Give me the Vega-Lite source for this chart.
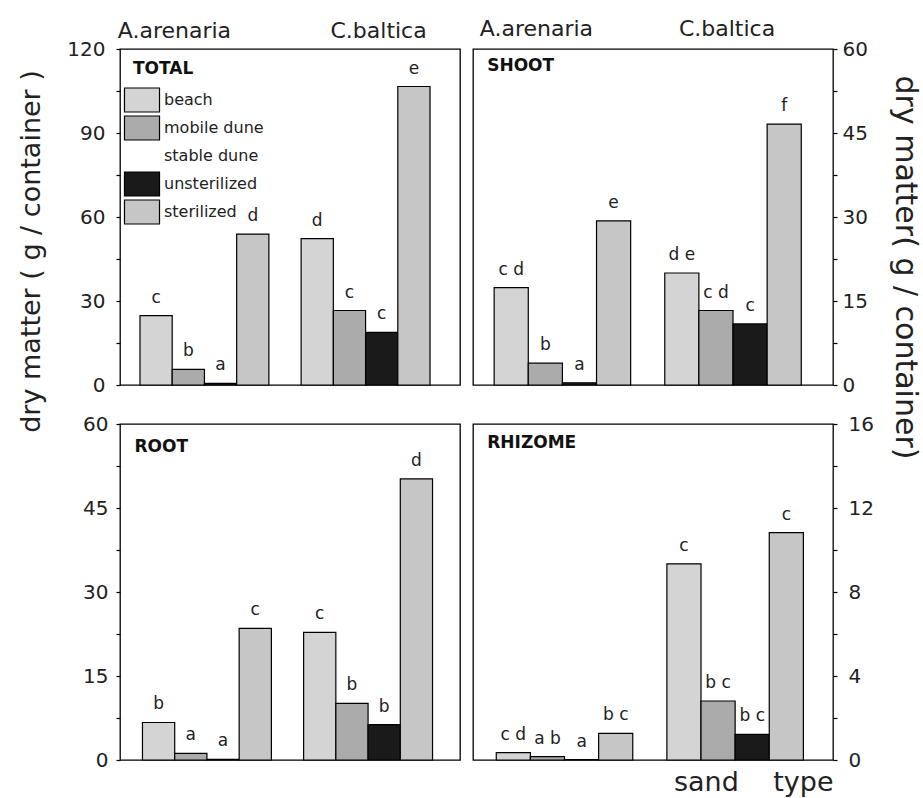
{
  "$schema": "https://vega.github.io/schema/vega-lite/v6.json",
  "autosize": {"type": "none"},
  "padding": {"left": 120, "top": 49, "right": 803, "bottom": 749},
  "background": "white",
  "config": {
    "font": "DejaVu Sans",
    "view": {"stroke": "#000", "strokeWidth": 1.3},
    "axis": {"labelFont": "DejaVu Sans", "labelColor": "#222", "labelFontSize": 20, "tickColor": "#000", "tickWidth": 1.2, "grid": false, "domain": false, "titleFont": "DejaVu Sans", "titleFontWeight": "normal", "titleColor": "#222"},
    "legend": {"labelFont": "DejaVu Sans"},
    "text": {"font": "DejaVu Sans", "color": "#222"}
  },
  "datasets": {
    "d": [
      {"panel": "TOTAL", "species": "A.arenaria", "sand": "beach", "value": 24.8, "sig": "c"},
      {"panel": "TOTAL", "species": "A.arenaria", "sand": "mobile dune", "value": 5.6, "sig": "b"},
      {"panel": "TOTAL", "species": "A.arenaria", "sand": "unsterilized", "value": 0.6, "sig": "a"},
      {"panel": "TOTAL", "species": "A.arenaria", "sand": "sterilized", "value": 53.9, "sig": "d"},
      {"panel": "TOTAL", "species": "C.baltica", "sand": "beach", "value": 52.3, "sig": "d"},
      {"panel": "TOTAL", "species": "C.baltica", "sand": "mobile dune", "value": 26.6, "sig": "c"},
      {"panel": "TOTAL", "species": "C.baltica", "sand": "unsterilized", "value": 18.8, "sig": "c"},
      {"panel": "TOTAL", "species": "C.baltica", "sand": "sterilized", "value": 106.6, "sig": "e"},
      {"panel": "SHOOT", "species": "A.arenaria", "sand": "beach", "value": 17.4, "sig": "c d"},
      {"panel": "SHOOT", "species": "A.arenaria", "sand": "mobile dune", "value": 3.9, "sig": "b"},
      {"panel": "SHOOT", "species": "A.arenaria", "sand": "unsterilized", "value": 0.4, "sig": "a"},
      {"panel": "SHOOT", "species": "A.arenaria", "sand": "sterilized", "value": 29.3, "sig": "e"},
      {"panel": "SHOOT", "species": "C.baltica", "sand": "beach", "value": 20.0, "sig": "d e"},
      {"panel": "SHOOT", "species": "C.baltica", "sand": "mobile dune", "value": 13.3, "sig": "c d"},
      {"panel": "SHOOT", "species": "C.baltica", "sand": "unsterilized", "value": 10.9, "sig": "c"},
      {"panel": "SHOOT", "species": "C.baltica", "sand": "sterilized", "value": 46.6, "sig": "f"},
      {"panel": "ROOT", "species": "A.arenaria", "sand": "beach", "value": 6.7, "sig": "b"},
      {"panel": "ROOT", "species": "A.arenaria", "sand": "mobile dune", "value": 1.2, "sig": "a"},
      {"panel": "ROOT", "species": "A.arenaria", "sand": "unsterilized", "value": 0.1, "sig": "a"},
      {"panel": "ROOT", "species": "A.arenaria", "sand": "sterilized", "value": 23.5, "sig": "c"},
      {"panel": "ROOT", "species": "C.baltica", "sand": "beach", "value": 22.8, "sig": "c"},
      {"panel": "ROOT", "species": "C.baltica", "sand": "mobile dune", "value": 10.1, "sig": "b"},
      {"panel": "ROOT", "species": "C.baltica", "sand": "unsterilized", "value": 6.3, "sig": "b"},
      {"panel": "ROOT", "species": "C.baltica", "sand": "sterilized", "value": 50.2, "sig": "d"},
      {"panel": "RHIZOME", "species": "A.arenaria", "sand": "beach", "value": 0.35, "sig": "c d"},
      {"panel": "RHIZOME", "species": "A.arenaria", "sand": "mobile dune", "value": 0.16, "sig": "a b"},
      {"panel": "RHIZOME", "species": "A.arenaria", "sand": "unsterilized", "value": 0.02, "sig": "a"},
      {"panel": "RHIZOME", "species": "A.arenaria", "sand": "sterilized", "value": 1.27, "sig": "b c"},
      {"panel": "RHIZOME", "species": "C.baltica", "sand": "beach", "value": 9.34, "sig": "c"},
      {"panel": "RHIZOME", "species": "C.baltica", "sand": "mobile dune", "value": 2.81, "sig": "b c"},
      {"panel": "RHIZOME", "species": "C.baltica", "sand": "unsterilized", "value": 1.22, "sig": "b c"},
      {"panel": "RHIZOME", "species": "C.baltica", "sand": "sterilized", "value": 10.83, "sig": "c"}
    ]
  },
  "columns": 2,
  "spacing": {"row": 39, "column": 13},
  "bounds": "flush",
  "resolve": {"scale": {"x": "independent", "y": "independent", "fill": "independent", "xOffset": "independent"}},
  "concat": [
    {
      "width": 340,
      "height": 336,
      "data": {"name": "d"},
      "layer": [
        {
          "transform": [{"filter": "datum.panel === 'TOTAL'"}],
          "mark": {"type": "bar", "stroke": "#000", "strokeWidth": 1.2},
          "encoding": {
            "x": {"field": "species", "type": "nominal", "title": null,
              "scale": {"domain": ["A.arenaria", "C.baltica"], "paddingInner": 0.2, "paddingOuter": 0.155, "align": 0.4},
              "axis": {"orient": "top", "labelAngle": 0, "labelFontSize": 22, "tickSize": 0, "ticks": false, "labelPadding": 12, "labelBaseline": "alphabetic",
                "labelOffset": {"condition": {"test": "datum.value === 'A.arenaria'", "value": -30}, "value": 13}}},
            "xOffset": {"field": "sand", "type": "nominal", "sort": ["beach", "mobile dune", "unsterilized", "sterilized"], "scale": {"paddingInner": 0, "paddingOuter": 0}},
            "y": {"field": "value", "type": "quantitative", "scale": {"domain": [0, 120], "nice": false},
              "axis": {"orient": "left", "values": [0, 15, 30, 45, 60, 75, 90, 105, 120], "labelExpr": "datum.value % 30 === 0 ? datum.label : ''", "tickSize": 4, "labelPadding": 11,
                "title": "dry matter ( g / container )", "titleFontSize": 27, "titleAngle": -90, "titleX": -81, "titleY": 202, "titleAlign": "center", "titleBaseline": "alphabetic"}},
            "fill": {"field": "sand", "type": "nominal",
              "scale": {"domain": ["beach", "mobile dune", "stable dune", "unsterilized", "sterilized"], "range": ["#d4d4d4", "#ababab", "transparent", "#1a1a1a", "#c6c6c6"]},
              "legend": {"title": null, "orient": "none", "legendX": 9, "legendY": 38, "padding": 0,
                "symbolType": "M-1.46,-1L1.46,-1L1.46,1L-1.46,1Z", "symbolSize": 576,
                "symbolStrokeColor": {"expr": "datum.value === 'stable dune' ? 'transparent' : '#000'"}, "symbolStrokeWidth": 1.2,
                "labelFontSize": 16, "labelOffset": 9, "rowPadding": -2.5, "labelColor": "#222", "labelLimit": 400}}
          }
        },
        {
          "transform": [{"filter": "datum.panel === 'TOTAL'"}],
          "mark": {"type": "text", "baseline": "alphabetic", "dy": -13, "fontSize": 17},
          "encoding": {
            "x": {"field": "species", "type": "nominal"},
            "xOffset": {"field": "sand", "type": "nominal", "sort": ["beach", "mobile dune", "unsterilized", "sterilized"]},
            "y": {"field": "value", "type": "quantitative"},
            "text": {"field": "sig"}
          }
        },
        {
          "data": {"values": [{"name": "TOTAL"}]},
          "mark": {"type": "text", "align": "left", "baseline": "middle", "fontWeight": "bold", "fontSize": 17, "dx": -7, "dy": 20, "color": "#111"},
          "encoding": {
            "x": {"datum": "A.arenaria", "type": "nominal", "bandPosition": 0},
            "y": {"datum": 120, "type": "quantitative"},
            "text": {"field": "name"}
          }
        }
      ]
    },
    {
      "width": 360,
      "height": 336,
      "data": {"name": "d"},
      "layer": [
        {
          "transform": [{"filter": "datum.panel === 'SHOOT'"}],
          "mark": {"type": "bar", "stroke": "#000", "strokeWidth": 1.2},
          "encoding": {
            "x": {"field": "species", "type": "nominal", "title": null,
              "scale": {"domain": ["A.arenaria", "C.baltica"], "paddingInner": 0.2, "paddingOuter": 0.155, "align": 0.4},
              "axis": {"orient": "top", "labelAngle": 0, "labelFontSize": 22, "tickSize": 0, "ticks": false, "labelPadding": 14, "labelBaseline": "alphabetic",
                "labelOffset": {"condition": {"test": "datum.value === 'A.arenaria'", "value": -26}, "value": -6}}},
            "xOffset": {"field": "sand", "type": "nominal", "sort": ["beach", "mobile dune", "unsterilized", "sterilized"], "scale": {"paddingInner": 0, "paddingOuter": 0}},
            "y": {"field": "value", "type": "quantitative", "scale": {"domain": [0, 60], "nice": false},
              "axis": {"orient": "right", "values": [0, 7.5, 15, 22.5, 30, 37.5, 45, 52.5, 60], "labelExpr": "datum.value % 15 === 0 ? datum.label : ''", "tickSize": 4, "labelPadding": 5,
                "title": "dry matter( g / container)", "titleFontSize": 30, "titleAngle": 90, "titleX": 62, "titleY": 218, "titleAlign": "center", "titleBaseline": "alphabetic"}},
            "fill": {"field": "sand", "type": "nominal", "legend": null,
              "scale": {"domain": ["beach", "mobile dune", "stable dune", "unsterilized", "sterilized"], "range": ["#d4d4d4", "#ababab", "transparent", "#1a1a1a", "#c6c6c6"]}}
          }
        },
        {
          "transform": [{"filter": "datum.panel === 'SHOOT'"}],
          "mark": {"type": "text", "baseline": "alphabetic", "dy": -13, "fontSize": 17},
          "encoding": {
            "x": {"field": "species", "type": "nominal"},
            "xOffset": {"field": "sand", "type": "nominal", "sort": ["beach", "mobile dune", "unsterilized", "sterilized"]},
            "y": {"field": "value", "type": "quantitative"},
            "text": {"field": "sig"}
          }
        },
        {
          "data": {"values": [{"name": "SHOOT"}]},
          "mark": {"type": "text", "align": "left", "baseline": "middle", "fontWeight": "bold", "fontSize": 17, "dx": -7, "dy": 17, "color": "#111"},
          "encoding": {
            "x": {"datum": "A.arenaria", "type": "nominal", "bandPosition": 0},
            "y": {"datum": 60, "type": "quantitative"},
            "text": {"field": "name"}
          }
        }
      ]
    },
    {
      "width": 340,
      "height": 336,
      "data": {"name": "d"},
      "layer": [
        {
          "transform": [{"filter": "datum.panel === 'ROOT'"}],
          "mark": {"type": "bar", "stroke": "#000", "strokeWidth": 1.2},
          "encoding": {
            "x": {"field": "species", "type": "nominal", "title": null, "axis": null,
              "scale": {"domain": ["A.arenaria", "C.baltica"], "paddingInner": 0.2, "paddingOuter": 0.155, "align": 0.45}},
            "xOffset": {"field": "sand", "type": "nominal", "sort": ["beach", "mobile dune", "unsterilized", "sterilized"], "scale": {"paddingInner": 0, "paddingOuter": 0}},
            "y": {"field": "value", "type": "quantitative", "scale": {"domain": [0, 60], "nice": false},
              "axis": {"orient": "left", "values": [0, 7.5, 15, 22.5, 30, 37.5, 45, 52.5, 60], "labelExpr": "datum.value % 15 === 0 ? datum.label : ''", "tickSize": 4, "labelPadding": 8, "title": null}},
            "fill": {"field": "sand", "type": "nominal", "legend": null,
              "scale": {"domain": ["beach", "mobile dune", "stable dune", "unsterilized", "sterilized"], "range": ["#d4d4d4", "#ababab", "transparent", "#1a1a1a", "#c6c6c6"]}}
          }
        },
        {
          "transform": [{"filter": "datum.panel === 'ROOT'"}],
          "mark": {"type": "text", "baseline": "alphabetic", "dy": -13, "fontSize": 17},
          "encoding": {
            "x": {"field": "species", "type": "nominal"},
            "xOffset": {"field": "sand", "type": "nominal", "sort": ["beach", "mobile dune", "unsterilized", "sterilized"]},
            "y": {"field": "value", "type": "quantitative"},
            "text": {"field": "sig"}
          }
        },
        {
          "data": {"values": [{"name": "ROOT"}]},
          "mark": {"type": "text", "align": "left", "baseline": "middle", "fontWeight": "bold", "fontSize": 17, "dx": -8, "dy": 23, "color": "#111"},
          "encoding": {
            "x": {"datum": "A.arenaria", "type": "nominal", "bandPosition": 0},
            "y": {"datum": 60, "type": "quantitative"},
            "text": {"field": "name"}
          }
        }
      ]
    },
    {
      "width": 360,
      "height": 336,
      "data": {"name": "d"},
      "layer": [
        {
          "transform": [{"filter": "datum.panel === 'RHIZOME'"}],
          "mark": {"type": "bar", "stroke": "#000", "strokeWidth": 1.2},
          "encoding": {
            "x": {"field": "species", "type": "nominal",
              "scale": {"domain": ["A.arenaria", "C.baltica"], "paddingInner": 0.2, "paddingOuter": 0.155, "align": 0.44},
              "axis": {"orient": "bottom", "labels": false, "ticks": false, "domain": false,
                "title": "sand\u00a0\u00a0\u00a0\u00a0type", "titleFontSize": 27, "titleAlign": "right", "titleX": 360, "titleY": 30, "titleBaseline": "alphabetic"}},
            "xOffset": {"field": "sand", "type": "nominal", "sort": ["beach", "mobile dune", "unsterilized", "sterilized"], "scale": {"paddingInner": 0, "paddingOuter": 0}},
            "y": {"field": "value", "type": "quantitative", "scale": {"domain": [0, 16], "nice": false},
              "axis": {"orient": "right", "values": [0, 2, 4, 6, 8, 10, 12, 14, 16], "labelExpr": "datum.value % 4 === 0 ? datum.label : ''", "tickSize": 4, "labelPadding": 11, "title": null}},
            "fill": {"field": "sand", "type": "nominal", "legend": null,
              "scale": {"domain": ["beach", "mobile dune", "stable dune", "unsterilized", "sterilized"], "range": ["#d4d4d4", "#ababab", "transparent", "#1a1a1a", "#c6c6c6"]}}
          }
        },
        {
          "transform": [{"filter": "datum.panel === 'RHIZOME'"}],
          "mark": {"type": "text", "baseline": "alphabetic", "dy": -13, "fontSize": 17},
          "encoding": {
            "x": {"field": "species", "type": "nominal"},
            "xOffset": {"field": "sand", "type": "nominal", "sort": ["beach", "mobile dune", "unsterilized", "sterilized"]},
            "y": {"field": "value", "type": "quantitative"},
            "text": {"field": "sig"}
          }
        },
        {
          "data": {"values": [{"name": "RHIZOME"}]},
          "mark": {"type": "text", "align": "left", "baseline": "middle", "fontWeight": "bold", "fontSize": 17, "dx": -9, "dy": 19, "color": "#111"},
          "encoding": {
            "x": {"datum": "A.arenaria", "type": "nominal", "bandPosition": 0},
            "y": {"datum": 16, "type": "quantitative"},
            "text": {"field": "name"}
          }
        }
      ]
    }
  ]
}
